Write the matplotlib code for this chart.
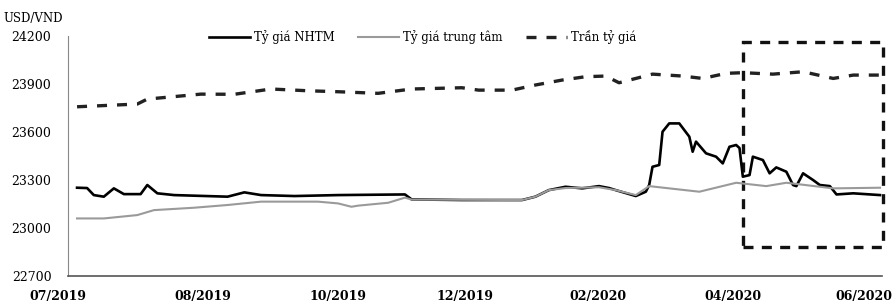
import matplotlib.pyplot as plt
from matplotlib.patches import Rectangle

plt.rcParams['font.family'] = ['DejaVu Serif']

# Trục hoành: chỉ số phiên giao dịch (0 = đầu 07/2019)
x_nhtm = [0, 3, 5, 8, 11, 14, 19, 21, 24, 29, 45, 50, 55, 65, 78, 98, 100, 115,
          133, 137, 141, 146, 151, 156, 159, 161, 167, 170, 171, 172, 174, 175,
          177, 180, 183, 184, 185, 188, 191, 193, 195, 197, 198, 199, 201, 202,
          205, 207, 209, 212, 214, 215, 217, 220, 222, 225, 227, 232, 240]
nhtm = [23252, 23250, 23206, 23196, 23248, 23212, 23212, 23269, 23217, 23206,
        23196, 23223, 23206, 23200, 23206, 23210, 23179, 23175, 23175, 23196,
        23237, 23258, 23248, 23262, 23250, 23237, 23200, 23227, 23269, 23383,
        23394, 23602, 23654, 23654, 23571, 23477, 23540, 23467, 23446, 23404,
        23508, 23519, 23500, 23321, 23331, 23446, 23425, 23342, 23379, 23352,
        23269, 23262, 23342, 23300, 23269, 23262, 23210, 23217, 23206]

x_tt = [0, 8, 18, 23, 35, 45, 55, 65, 72, 78, 82, 84, 93, 98, 100, 133, 137,
        141, 146, 156, 161, 167, 171, 186, 197, 206, 212, 226, 240]
trung_tam = [23060, 23060, 23081, 23112, 23127, 23144, 23165, 23165, 23165,
             23154, 23133, 23140, 23158, 23190, 23178, 23175, 23196, 23237,
             23250, 23255, 23237, 23206, 23262, 23227, 23283, 23262, 23283,
             23248, 23252]

x_tran = [0, 18, 21, 37, 47, 58, 69, 78, 90, 100, 115, 120, 130, 137, 145, 152,
          158, 162, 172, 181, 187, 194, 199, 208, 217, 226, 232, 240]
tran = [23758, 23775, 23806, 23837, 23836, 23869, 23858, 23852, 23842, 23869,
        23877, 23862, 23862, 23894, 23925, 23946, 23950, 23908, 23962, 23950,
        23935, 23967, 23971, 23962, 23977, 23935, 23956, 23956]

tick_pos = [-5.7, 37.7, 78, 116, 155.7, 196, 235.3]
tick_labels = ["07/2019", "08/2019", "10/2019", "12/2019", "02/2020", "04/2020", "06/2020"]
y_ticks = [22700, 23000, 23300, 23600, 23900, 24200]

fig = plt.figure(figsize=(8.95, 3.03), dpi=100)
ax = fig.add_axes([0.076, 0.089, 0.9095, 0.792])

ax.plot(x_nhtm, nhtm, color="black", lw=1.9, label="Tỷ giá NHTM")
ax.plot(x_tt, trung_tam, color="#9a9a9a", lw=1.5, label="Tỷ giá trung tâm")
ax.plot(x_tran, tran, color="#222222", lw=2.4, ls=(0, (3, 3)), label="Trần tỷ giá")

# khung nét đứt đánh dấu giai đoạn 04-06/2020
ax.add_patch(Rectangle((199, 22881), 41.9, 24162 - 22881, fill=False,
                       ec="#111111", lw=2.4, ls=(0, (3, 2.5)), clip_on=False))

ax.set_xlim(-2.7, 240.6)
ax.set_ylim(22700, 24200)
ax.set_yticks(y_ticks)
ax.set_xticks([])
ax.tick_params(axis="y", length=0, pad=12, labelsize=9)
for s in ["top", "right"]:
    ax.spines[s].set_visible(False)
ax.spines["left"].set_color("#888888")
ax.spines["bottom"].set_color("#555555")
ax.spines["bottom"].set_linewidth(1.2)

for p, lab in zip(tick_pos, tick_labels):
    ax.annotate(lab, xy=(p, 0), xycoords=("data", "axes fraction"),
                xytext=(0, -10), textcoords="offset points",
                ha="center", va="top", fontsize=9, fontweight="bold",
                annotation_clip=False)

fig.text(0.037, 0.94, "USD/VND", ha="center", va="center", fontsize=8.5)

ax.legend(loc="center", bbox_to_anchor=(0.472, 0.878), bbox_transform=fig.transFigure,
          ncol=3, frameon=False, fontsize=8.5, handlelength=3.5,
          handletextpad=0.3, columnspacing=2.0)

fig.savefig("out.png", dpi=100)
